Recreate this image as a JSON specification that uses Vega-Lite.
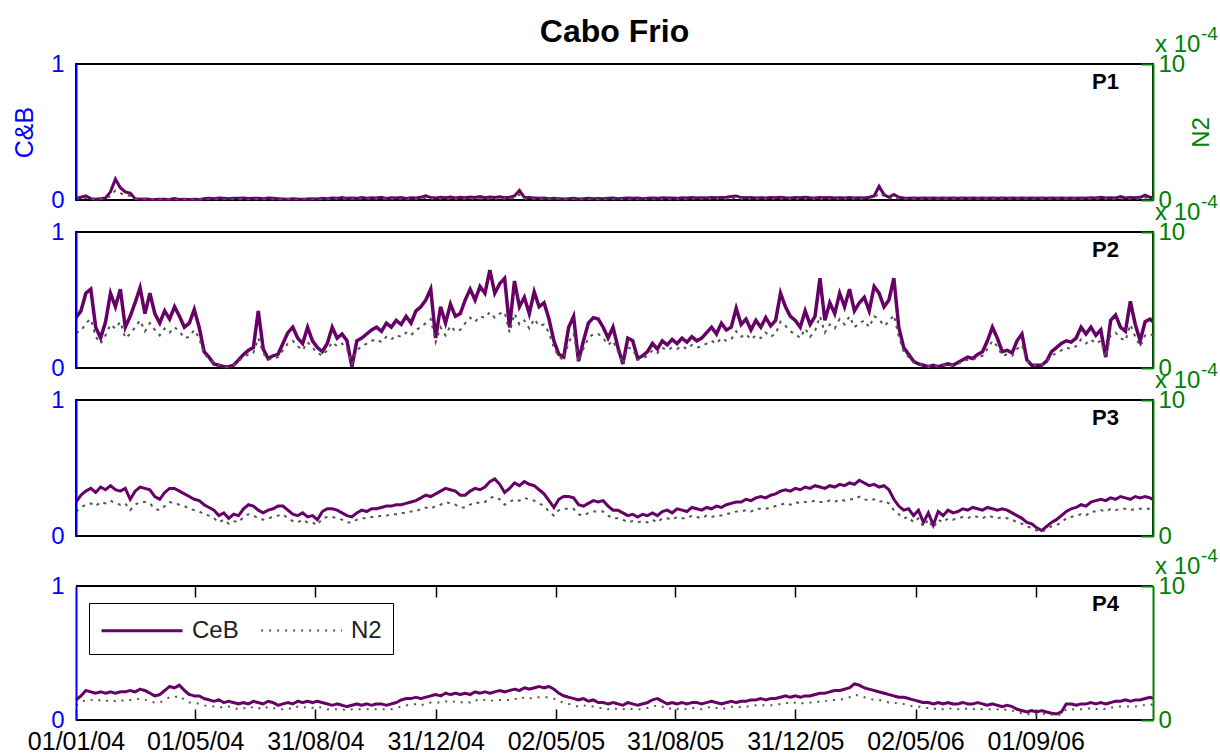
{
  "$schema": "https://vega.github.io/schema/vega-lite/v6.json",
  "background": "white",
  "padding": {"left": 11, "top": 16, "right": 2, "bottom": 0},
  "title": {"text": "Cabo Frio", "font": "Liberation Sans", "fontSize": 32, "fontWeight": "bold", "color": "#000000", "anchor": "middle", "frame": "group", "baseline": "alphabetic", "offset": -50},
  "config": {
    "font": "Liberation Sans",
    "view": {"stroke": "#000000", "strokeWidth": 2},
    "axis": {"labelFont": "Liberation Sans", "titleFont": "Liberation Sans", "grid": false},
    "legend": {"labelFont": "Liberation Sans"}
  },
  "datasets": {
    "cabofrio": [
      {"d":"2004-01-01","c1":0.01,"n1":0.1,"c2":0.37,"n2":2.6,"c3":0.25,"n3":1.8,"c4":0.15,"n4":1.1},
      {"d":"2004-01-06","c1":0.02,"n1":0.1,"c2":0.42,"n2":2.7,"c3":0.3,"n3":2.1,"c4":0.18,"n4":1.3},
      {"d":"2004-01-11","c1":0.03,"n1":0.15,"c2":0.55,"n2":3.3,"c3":0.33,"n3":2.3,"c4":0.22,"n4":1.5},
      {"d":"2004-01-16","c1":0.01,"n1":0.1,"c2":0.58,"n2":3.6,"c3":0.35,"n3":2.4,"c4":0.21,"n4":1.5},
      {"d":"2004-01-21","c1":0.005,"n1":0.1,"c2":0.3,"n2":2.3,"c3":0.32,"n3":2.2,"c4":0.2,"n4":1.4},
      {"d":"2004-01-26","c1":0.01,"n1":0.1,"c2":0.22,"n2":1.8,"c3":0.36,"n3":2.5,"c4":0.21,"n4":1.5},
      {"d":"2004-01-31","c1":0.015,"n1":0.1,"c2":0.34,"n2":2.4,"c3":0.34,"n3":2.4,"c4":0.2,"n4":1.4},
      {"d":"2004-02-05","c1":0.06,"n1":0.3,"c2":0.55,"n2":3.2,"c3":0.37,"n3":2.6,"c4":0.21,"n4":1.5},
      {"d":"2004-02-10","c1":0.155,"n1":0.7,"c2":0.45,"n2":2.9,"c3":0.34,"n3":2.4,"c4":0.2,"n4":1.4},
      {"d":"2004-02-15","c1":0.09,"n1":0.5,"c2":0.58,"n2":3.4,"c3":0.33,"n3":2.3,"c4":0.21,"n4":1.5},
      {"d":"2004-02-20","c1":0.06,"n1":0.4,"c2":0.3,"n2":2.2,"c3":0.35,"n3":2.4,"c4":0.21,"n4":1.4},
      {"d":"2004-02-25","c1":0.05,"n1":0.3,"c2":0.38,"n2":2.5,"c3":0.27,"n3":1.9,"c4":0.22,"n4":1.5},
      {"d":"2004-03-01","c1":0.01,"n1":0.1,"c2":0.48,"n2":3.0,"c3":0.33,"n3":2.3,"c4":0.21,"n4":1.5},
      {"d":"2004-03-06","c1":0.005,"n1":0.1,"c2":0.59,"n2":3.5,"c3":0.36,"n3":2.5,"c4":0.23,"n4":1.6},
      {"d":"2004-03-11","c1":0.008,"n1":0.1,"c2":0.4,"n2":2.7,"c3":0.35,"n3":2.5,"c4":0.22,"n4":1.5},
      {"d":"2004-03-16","c1":0.005,"n1":0.05,"c2":0.55,"n2":3.3,"c3":0.34,"n3":2.4,"c4":0.2,"n4":1.4},
      {"d":"2004-03-21","c1":0.004,"n1":0.05,"c2":0.4,"n2":2.8,"c3":0.29,"n3":2.0,"c4":0.18,"n4":1.3},
      {"d":"2004-03-26","c1":0.006,"n1":0.05,"c2":0.33,"n2":2.4,"c3":0.27,"n3":1.9,"c4":0.19,"n4":1.3},
      {"d":"2004-03-31","c1":0.005,"n1":0.05,"c2":0.42,"n2":2.9,"c3":0.32,"n3":2.2,"c4":0.22,"n4":1.5},
      {"d":"2004-04-05","c1":0.004,"n1":0.05,"c2":0.36,"n2":2.6,"c3":0.35,"n3":2.5,"c4":0.25,"n4":1.7},
      {"d":"2004-04-10","c1":0.01,"n1":0.05,"c2":0.45,"n2":3.0,"c3":0.35,"n3":2.4,"c4":0.24,"n4":1.7},
      {"d":"2004-04-15","c1":0.004,"n1":0.05,"c2":0.38,"n2":2.7,"c3":0.33,"n3":2.3,"c4":0.26,"n4":1.8},
      {"d":"2004-04-20","c1":0.005,"n1":0.05,"c2":0.3,"n2":2.2,"c3":0.31,"n3":2.2,"c4":0.22,"n4":1.5},
      {"d":"2004-04-25","c1":0.003,"n1":0.05,"c2":0.33,"n2":2.3,"c3":0.29,"n3":2.0,"c4":0.19,"n4":1.3},
      {"d":"2004-04-30","c1":0.006,"n1":0.05,"c2":0.43,"n2":2.8,"c3":0.27,"n3":1.9,"c4":0.18,"n4":1.3},
      {"d":"2004-05-05","c1":0.004,"n1":0.05,"c2":0.3,"n2":2.2,"c3":0.26,"n3":1.8,"c4":0.18,"n4":1.2},
      {"d":"2004-05-10","c1":0.01,"n1":0.05,"c2":0.12,"n2":1.0,"c3":0.23,"n3":1.6,"c4":0.16,"n4":1.1},
      {"d":"2004-05-15","c1":0.012,"n1":0.05,"c2":0.08,"n2":0.7,"c3":0.21,"n3":1.5,"c4":0.15,"n4":1.0},
      {"d":"2004-05-20","c1":0.01,"n1":0.05,"c2":0.03,"n2":0.3,"c3":0.19,"n3":1.3,"c4":0.14,"n4":1.0},
      {"d":"2004-05-25","c1":0.014,"n1":0.05,"c2":0.02,"n2":0.2,"c3":0.15,"n3":1.0,"c4":0.15,"n4":1.0},
      {"d":"2004-05-30","c1":0.012,"n1":0.05,"c2":0.01,"n2":0.1,"c3":0.17,"n3":1.2,"c4":0.13,"n4":0.9},
      {"d":"2004-06-04","c1":0.01,"n1":0.05,"c2":0.01,"n2":0.1,"c3":0.13,"n3":0.9,"c4":0.14,"n4":1.0},
      {"d":"2004-06-09","c1":0.013,"n1":0.05,"c2":0.02,"n2":0.2,"c3":0.16,"n3":1.1,"c4":0.13,"n4":0.9},
      {"d":"2004-06-14","c1":0.012,"n1":0.05,"c2":0.06,"n2":0.5,"c3":0.15,"n3":1.0,"c4":0.12,"n4":0.8},
      {"d":"2004-06-19","c1":0.015,"n1":0.05,"c2":0.1,"n2":0.8,"c3":0.2,"n3":1.4,"c4":0.13,"n4":0.9},
      {"d":"2004-06-24","c1":0.011,"n1":0.05,"c2":0.13,"n2":1.0,"c3":0.23,"n3":1.6,"c4":0.12,"n4":0.8},
      {"d":"2004-06-29","c1":0.013,"n1":0.05,"c2":0.15,"n2":1.1,"c3":0.22,"n3":1.5,"c4":0.14,"n4":1.0},
      {"d":"2004-07-04","c1":0.012,"n1":0.05,"c2":0.42,"n2":2.2,"c3":0.19,"n3":1.3,"c4":0.13,"n4":0.9},
      {"d":"2004-07-09","c1":0.01,"n1":0.05,"c2":0.14,"n2":1.1,"c3":0.17,"n3":1.2,"c4":0.12,"n4":0.8},
      {"d":"2004-07-14","c1":0.014,"n1":0.05,"c2":0.07,"n2":0.6,"c3":0.19,"n3":1.3,"c4":0.14,"n4":1.0},
      {"d":"2004-07-19","c1":0.012,"n1":0.05,"c2":0.09,"n2":0.7,"c3":0.2,"n3":1.4,"c4":0.13,"n4":0.9},
      {"d":"2004-07-24","c1":0.01,"n1":0.05,"c2":0.1,"n2":0.8,"c3":0.22,"n3":1.5,"c4":0.11,"n4":0.8},
      {"d":"2004-07-29","c1":0.008,"n1":0.05,"c2":0.18,"n2":1.3,"c3":0.22,"n3":1.6,"c4":0.12,"n4":0.8},
      {"d":"2004-08-03","c1":0.006,"n1":0.05,"c2":0.26,"n2":1.8,"c3":0.19,"n3":1.3,"c4":0.13,"n4":0.9},
      {"d":"2004-08-08","c1":0.01,"n1":0.05,"c2":0.3,"n2":2.0,"c3":0.16,"n3":1.1,"c4":0.12,"n4":0.8},
      {"d":"2004-08-13","c1":0.007,"n1":0.05,"c2":0.22,"n2":1.6,"c3":0.15,"n3":1.0,"c4":0.14,"n4":1.0},
      {"d":"2004-08-18","c1":0.005,"n1":0.05,"c2":0.18,"n2":1.3,"c3":0.17,"n3":1.2,"c4":0.13,"n4":0.9},
      {"d":"2004-08-23","c1":0.008,"n1":0.05,"c2":0.3,"n2":1.9,"c3":0.14,"n3":1.0,"c4":0.14,"n4":1.0},
      {"d":"2004-08-28","c1":0.01,"n1":0.05,"c2":0.2,"n2":1.5,"c3":0.15,"n3":1.0,"c4":0.13,"n4":0.9},
      {"d":"2004-09-02","c1":0.007,"n1":0.05,"c2":0.15,"n2":1.1,"c3":0.12,"n3":0.8,"c4":0.14,"n4":1.0},
      {"d":"2004-09-07","c1":0.012,"n1":0.05,"c2":0.12,"n2":0.9,"c3":0.18,"n3":1.3,"c4":0.13,"n4":0.9},
      {"d":"2004-09-12","c1":0.01,"n1":0.05,"c2":0.18,"n2":1.3,"c3":0.2,"n3":1.4,"c4":0.12,"n4":0.8},
      {"d":"2004-09-17","c1":0.015,"n1":0.1,"c2":0.3,"n2":1.9,"c3":0.2,"n3":1.4,"c4":0.11,"n4":0.8},
      {"d":"2004-09-22","c1":0.012,"n1":0.1,"c2":0.22,"n2":1.6,"c3":0.19,"n3":1.3,"c4":0.12,"n4":0.8},
      {"d":"2004-09-27","c1":0.018,"n1":0.1,"c2":0.25,"n2":1.8,"c3":0.17,"n3":1.2,"c4":0.11,"n4":0.8},
      {"d":"2004-10-02","c1":0.012,"n1":0.1,"c2":0.2,"n2":1.4,"c3":0.15,"n3":1.0,"c4":0.1,"n4":0.7},
      {"d":"2004-10-07","c1":0.015,"n1":0.1,"c2":0.01,"n2":0.3,"c3":0.14,"n3":1.0,"c4":0.11,"n4":0.8},
      {"d":"2004-10-12","c1":0.012,"n1":0.1,"c2":0.2,"n2":1.3,"c3":0.17,"n3":1.2,"c4":0.12,"n4":0.8},
      {"d":"2004-10-17","c1":0.018,"n1":0.1,"c2":0.22,"n2":1.6,"c3":0.19,"n3":1.3,"c4":0.11,"n4":0.8},
      {"d":"2004-10-22","c1":0.013,"n1":0.1,"c2":0.25,"n2":1.8,"c3":0.18,"n3":1.3,"c4":0.12,"n4":0.8},
      {"d":"2004-10-27","c1":0.016,"n1":0.1,"c2":0.28,"n2":2.0,"c3":0.2,"n3":1.4,"c4":0.11,"n4":0.8},
      {"d":"2004-11-01","c1":0.014,"n1":0.1,"c2":0.3,"n2":2.1,"c3":0.2,"n3":1.4,"c4":0.12,"n4":0.8},
      {"d":"2004-11-06","c1":0.02,"n1":0.1,"c2":0.27,"n2":1.9,"c3":0.21,"n3":1.5,"c4":0.12,"n4":0.8},
      {"d":"2004-11-11","c1":0.012,"n1":0.1,"c2":0.33,"n2":2.3,"c3":0.22,"n3":1.5,"c4":0.11,"n4":0.8},
      {"d":"2004-11-16","c1":0.016,"n1":0.1,"c2":0.3,"n2":2.1,"c3":0.22,"n3":1.6,"c4":0.12,"n4":0.8},
      {"d":"2004-11-21","c1":0.014,"n1":0.1,"c2":0.35,"n2":2.4,"c3":0.23,"n3":1.6,"c4":0.13,"n4":0.9},
      {"d":"2004-11-26","c1":0.018,"n1":0.1,"c2":0.32,"n2":2.3,"c3":0.23,"n3":1.7,"c4":0.15,"n4":1.0},
      {"d":"2004-12-01","c1":0.012,"n1":0.1,"c2":0.38,"n2":2.6,"c3":0.24,"n3":1.7,"c4":0.16,"n4":1.1},
      {"d":"2004-12-06","c1":0.017,"n1":0.1,"c2":0.33,"n2":2.4,"c3":0.25,"n3":1.8,"c4":0.16,"n4":1.1},
      {"d":"2004-12-11","c1":0.015,"n1":0.1,"c2":0.42,"n2":2.8,"c3":0.26,"n3":1.8,"c4":0.17,"n4":1.2},
      {"d":"2004-12-16","c1":0.02,"n1":0.1,"c2":0.45,"n2":3.0,"c3":0.28,"n3":2.0,"c4":0.16,"n4":1.1},
      {"d":"2004-12-21","c1":0.03,"n1":0.15,"c2":0.5,"n2":3.3,"c3":0.3,"n3":2.1,"c4":0.17,"n4":1.2},
      {"d":"2004-12-26","c1":0.018,"n1":0.1,"c2":0.58,"n2":3.6,"c3":0.29,"n3":2.0,"c4":0.18,"n4":1.3},
      {"d":"2004-12-31","c1":0.015,"n1":0.1,"c2":0.22,"n2":1.9,"c3":0.31,"n3":2.2,"c4":0.19,"n4":1.3},
      {"d":"2005-01-05","c1":0.02,"n1":0.1,"c2":0.45,"n2":3.0,"c3":0.33,"n3":2.3,"c4":0.18,"n4":1.3},
      {"d":"2005-01-10","c1":0.016,"n1":0.1,"c2":0.33,"n2":2.4,"c3":0.35,"n3":2.5,"c4":0.2,"n4":1.4},
      {"d":"2005-01-15","c1":0.022,"n1":0.1,"c2":0.47,"n2":3.1,"c3":0.34,"n3":2.4,"c4":0.19,"n4":1.3},
      {"d":"2005-01-20","c1":0.015,"n1":0.1,"c2":0.38,"n2":2.7,"c3":0.33,"n3":2.3,"c4":0.2,"n4":1.4},
      {"d":"2005-01-25","c1":0.02,"n1":0.1,"c2":0.4,"n2":2.8,"c3":0.3,"n3":2.1,"c4":0.19,"n4":1.3},
      {"d":"2005-01-30","c1":0.016,"n1":0.1,"c2":0.5,"n2":3.3,"c3":0.3,"n3":2.1,"c4":0.2,"n4":1.4},
      {"d":"2005-02-04","c1":0.022,"n1":0.1,"c2":0.58,"n2":3.7,"c3":0.33,"n3":2.3,"c4":0.19,"n4":1.3},
      {"d":"2005-02-09","c1":0.018,"n1":0.1,"c2":0.5,"n2":3.4,"c3":0.35,"n3":2.5,"c4":0.21,"n4":1.5},
      {"d":"2005-02-14","c1":0.025,"n1":0.1,"c2":0.6,"n2":3.8,"c3":0.34,"n3":2.4,"c4":0.2,"n4":1.4},
      {"d":"2005-02-19","c1":0.017,"n1":0.1,"c2":0.55,"n2":3.7,"c3":0.36,"n3":2.5,"c4":0.21,"n4":1.5},
      {"d":"2005-02-24","c1":0.022,"n1":0.1,"c2":0.72,"n2":4.1,"c3":0.4,"n3":2.8,"c4":0.2,"n4":1.4},
      {"d":"2005-03-01","c1":0.018,"n1":0.1,"c2":0.55,"n2":3.7,"c3":0.42,"n3":2.9,"c4":0.21,"n4":1.5},
      {"d":"2005-03-06","c1":0.024,"n1":0.1,"c2":0.62,"n2":4.0,"c3":0.38,"n3":2.7,"c4":0.22,"n4":1.5},
      {"d":"2005-03-11","c1":0.016,"n1":0.1,"c2":0.66,"n2":4.1,"c3":0.32,"n3":2.3,"c4":0.21,"n4":1.5},
      {"d":"2005-03-16","c1":0.02,"n1":0.1,"c2":0.3,"n2":2.6,"c3":0.35,"n3":2.5,"c4":0.22,"n4":1.5},
      {"d":"2005-03-21","c1":0.03,"n1":0.15,"c2":0.64,"n2":4.0,"c3":0.39,"n3":2.7,"c4":0.23,"n4":1.6},
      {"d":"2005-03-26","c1":0.07,"n1":0.4,"c2":0.45,"n2":3.2,"c3":0.37,"n3":2.6,"c4":0.22,"n4":1.5},
      {"d":"2005-03-31","c1":0.02,"n1":0.1,"c2":0.52,"n2":3.5,"c3":0.4,"n3":2.8,"c4":0.24,"n4":1.7},
      {"d":"2005-04-05","c1":0.018,"n1":0.1,"c2":0.4,"n2":2.9,"c3":0.38,"n3":2.7,"c4":0.23,"n4":1.6},
      {"d":"2005-04-10","c1":0.015,"n1":0.1,"c2":0.56,"n2":3.6,"c3":0.37,"n3":2.6,"c4":0.24,"n4":1.7},
      {"d":"2005-04-15","c1":0.012,"n1":0.1,"c2":0.45,"n2":3.1,"c3":0.34,"n3":2.4,"c4":0.25,"n4":1.7},
      {"d":"2005-04-20","c1":0.014,"n1":0.1,"c2":0.48,"n2":3.2,"c3":0.31,"n3":2.2,"c4":0.24,"n4":1.7},
      {"d":"2005-04-25","c1":0.01,"n1":0.1,"c2":0.36,"n2":2.6,"c3":0.26,"n3":1.8,"c4":0.25,"n4":1.7},
      {"d":"2005-04-30","c1":0.012,"n1":0.1,"c2":0.2,"n2":1.5,"c3":0.21,"n3":1.5,"c4":0.23,"n4":1.6},
      {"d":"2005-05-05","c1":0.01,"n1":0.1,"c2":0.1,"n2":0.8,"c3":0.27,"n3":1.9,"c4":0.2,"n4":1.4},
      {"d":"2005-05-10","c1":0.008,"n1":0.05,"c2":0.08,"n2":0.6,"c3":0.29,"n3":2.0,"c4":0.18,"n4":1.3},
      {"d":"2005-05-15","c1":0.01,"n1":0.05,"c2":0.3,"n2":1.9,"c3":0.29,"n3":2.0,"c4":0.17,"n4":1.2},
      {"d":"2005-05-20","c1":0.012,"n1":0.05,"c2":0.38,"n2":2.5,"c3":0.28,"n3":2.0,"c4":0.16,"n4":1.1},
      {"d":"2005-05-25","c1":0.008,"n1":0.05,"c2":0.05,"n2":0.5,"c3":0.23,"n3":1.6,"c4":0.15,"n4":1.0},
      {"d":"2005-05-30","c1":0.01,"n1":0.05,"c2":0.2,"n2":1.4,"c3":0.22,"n3":1.5,"c4":0.16,"n4":1.1},
      {"d":"2005-06-04","c1":0.012,"n1":0.05,"c2":0.33,"n2":2.2,"c3":0.24,"n3":1.7,"c4":0.14,"n4":1.0},
      {"d":"2005-06-09","c1":0.009,"n1":0.05,"c2":0.37,"n2":2.5,"c3":0.26,"n3":1.8,"c4":0.15,"n4":1.0},
      {"d":"2005-06-14","c1":0.011,"n1":0.05,"c2":0.36,"n2":2.5,"c3":0.25,"n3":1.8,"c4":0.13,"n4":0.9},
      {"d":"2005-06-19","c1":0.01,"n1":0.05,"c2":0.3,"n2":2.2,"c3":0.26,"n3":1.8,"c4":0.13,"n4":0.9},
      {"d":"2005-06-24","c1":0.012,"n1":0.05,"c2":0.22,"n2":1.7,"c3":0.22,"n3":1.5,"c4":0.12,"n4":0.8},
      {"d":"2005-06-29","c1":0.014,"n1":0.05,"c2":0.3,"n2":2.0,"c3":0.19,"n3":1.3,"c4":0.13,"n4":0.9},
      {"d":"2005-07-04","c1":0.01,"n1":0.05,"c2":0.15,"n2":1.2,"c3":0.19,"n3":1.3,"c4":0.12,"n4":0.8},
      {"d":"2005-07-09","c1":0.012,"n1":0.05,"c2":0.03,"n2":0.3,"c3":0.17,"n3":1.2,"c4":0.11,"n4":0.8},
      {"d":"2005-07-14","c1":0.015,"n1":0.05,"c2":0.22,"n2":1.5,"c3":0.15,"n3":1.0,"c4":0.13,"n4":0.9},
      {"d":"2005-07-19","c1":0.012,"n1":0.05,"c2":0.2,"n2":1.4,"c3":0.16,"n3":1.1,"c4":0.12,"n4":0.8},
      {"d":"2005-07-24","c1":0.014,"n1":0.05,"c2":0.07,"n2":0.6,"c3":0.14,"n3":1.0,"c4":0.11,"n4":0.8},
      {"d":"2005-07-29","c1":0.01,"n1":0.05,"c2":0.09,"n2":0.7,"c3":0.16,"n3":1.1,"c4":0.12,"n4":0.8},
      {"d":"2005-08-03","c1":0.013,"n1":0.05,"c2":0.12,"n2":0.9,"c3":0.15,"n3":1.0,"c4":0.13,"n4":0.9},
      {"d":"2005-08-08","c1":0.015,"n1":0.05,"c2":0.18,"n2":1.3,"c3":0.17,"n3":1.2,"c4":0.15,"n4":1.0},
      {"d":"2005-08-13","c1":0.012,"n1":0.05,"c2":0.14,"n2":1.1,"c3":0.15,"n3":1.0,"c4":0.16,"n4":1.1},
      {"d":"2005-08-18","c1":0.016,"n1":0.05,"c2":0.2,"n2":1.5,"c3":0.18,"n3":1.3,"c4":0.14,"n4":1.0},
      {"d":"2005-08-23","c1":0.014,"n1":0.05,"c2":0.17,"n2":1.3,"c3":0.19,"n3":1.3,"c4":0.12,"n4":0.8},
      {"d":"2005-08-28","c1":0.015,"n1":0.05,"c2":0.21,"n2":1.5,"c3":0.17,"n3":1.2,"c4":0.13,"n4":0.9},
      {"d":"2005-09-02","c1":0.012,"n1":0.05,"c2":0.18,"n2":1.4,"c3":0.2,"n3":1.4,"c4":0.12,"n4":0.8},
      {"d":"2005-09-07","c1":0.016,"n1":0.05,"c2":0.22,"n2":1.6,"c3":0.19,"n3":1.3,"c4":0.13,"n4":0.9},
      {"d":"2005-09-12","c1":0.014,"n1":0.05,"c2":0.19,"n2":1.4,"c3":0.18,"n3":1.3,"c4":0.12,"n4":0.8},
      {"d":"2005-09-17","c1":0.018,"n1":0.1,"c2":0.23,"n2":1.7,"c3":0.21,"n3":1.5,"c4":0.13,"n4":0.9},
      {"d":"2005-09-22","c1":0.015,"n1":0.1,"c2":0.2,"n2":1.5,"c3":0.2,"n3":1.4,"c4":0.13,"n4":0.9},
      {"d":"2005-09-27","c1":0.017,"n1":0.1,"c2":0.22,"n2":1.6,"c3":0.19,"n3":1.3,"c4":0.12,"n4":0.8},
      {"d":"2005-10-02","c1":0.015,"n1":0.1,"c2":0.26,"n2":1.8,"c3":0.21,"n3":1.5,"c4":0.13,"n4":0.9},
      {"d":"2005-10-07","c1":0.018,"n1":0.1,"c2":0.3,"n2":2.0,"c3":0.2,"n3":1.4,"c4":0.14,"n4":1.0},
      {"d":"2005-10-12","c1":0.016,"n1":0.1,"c2":0.25,"n2":1.8,"c3":0.22,"n3":1.5,"c4":0.13,"n4":0.9},
      {"d":"2005-10-17","c1":0.019,"n1":0.1,"c2":0.33,"n2":2.2,"c3":0.21,"n3":1.5,"c4":0.12,"n4":0.8},
      {"d":"2005-10-22","c1":0.02,"n1":0.1,"c2":0.28,"n2":2.0,"c3":0.23,"n3":1.6,"c4":0.13,"n4":0.9},
      {"d":"2005-10-27","c1":0.025,"n1":0.1,"c2":0.3,"n2":2.1,"c3":0.24,"n3":1.7,"c4":0.14,"n4":1.0},
      {"d":"2005-11-01","c1":0.03,"n1":0.15,"c2":0.44,"n2":2.7,"c3":0.25,"n3":1.8,"c4":0.13,"n4":0.9},
      {"d":"2005-11-06","c1":0.018,"n1":0.1,"c2":0.32,"n2":2.3,"c3":0.25,"n3":1.8,"c4":0.14,"n4":1.0},
      {"d":"2005-11-11","c1":0.016,"n1":0.1,"c2":0.36,"n2":2.5,"c3":0.27,"n3":1.9,"c4":0.14,"n4":1.0},
      {"d":"2005-11-16","c1":0.018,"n1":0.1,"c2":0.28,"n2":2.1,"c3":0.26,"n3":1.8,"c4":0.15,"n4":1.0},
      {"d":"2005-11-21","c1":0.015,"n1":0.1,"c2":0.35,"n2":2.4,"c3":0.28,"n3":2.0,"c4":0.15,"n4":1.1},
      {"d":"2005-11-26","c1":0.017,"n1":0.1,"c2":0.3,"n2":2.2,"c3":0.29,"n3":2.0,"c4":0.16,"n4":1.1},
      {"d":"2005-12-01","c1":0.015,"n1":0.1,"c2":0.37,"n2":2.6,"c3":0.28,"n3":2.0,"c4":0.15,"n4":1.1},
      {"d":"2005-12-06","c1":0.018,"n1":0.1,"c2":0.31,"n2":2.3,"c3":0.3,"n3":2.1,"c4":0.16,"n4":1.1},
      {"d":"2005-12-11","c1":0.016,"n1":0.1,"c2":0.35,"n2":2.5,"c3":0.31,"n3":2.2,"c4":0.16,"n4":1.1},
      {"d":"2005-12-16","c1":0.02,"n1":0.1,"c2":0.55,"n2":3.4,"c3":0.33,"n3":2.3,"c4":0.17,"n4":1.2},
      {"d":"2005-12-21","c1":0.017,"n1":0.1,"c2":0.45,"n2":3.1,"c3":0.34,"n3":2.4,"c4":0.18,"n4":1.3},
      {"d":"2005-12-26","c1":0.015,"n1":0.1,"c2":0.38,"n2":2.7,"c3":0.33,"n3":2.3,"c4":0.17,"n4":1.2},
      {"d":"2005-12-31","c1":0.018,"n1":0.1,"c2":0.35,"n2":2.5,"c3":0.35,"n3":2.5,"c4":0.18,"n4":1.3},
      {"d":"2006-01-05","c1":0.016,"n1":0.1,"c2":0.3,"n2":2.2,"c3":0.34,"n3":2.4,"c4":0.17,"n4":1.2},
      {"d":"2006-01-10","c1":0.02,"n1":0.1,"c2":0.42,"n2":2.9,"c3":0.36,"n3":2.5,"c4":0.18,"n4":1.3},
      {"d":"2006-01-15","c1":0.017,"n1":0.1,"c2":0.32,"n2":2.3,"c3":0.35,"n3":2.5,"c4":0.18,"n4":1.3},
      {"d":"2006-01-20","c1":0.015,"n1":0.1,"c2":0.38,"n2":2.7,"c3":0.37,"n3":2.6,"c4":0.19,"n4":1.3},
      {"d":"2006-01-25","c1":0.018,"n1":0.1,"c2":0.66,"n2":3.8,"c3":0.36,"n3":2.5,"c4":0.2,"n4":1.4},
      {"d":"2006-01-30","c1":0.016,"n1":0.1,"c2":0.35,"n2":2.6,"c3":0.35,"n3":2.5,"c4":0.2,"n4":1.4},
      {"d":"2006-02-04","c1":0.018,"n1":0.1,"c2":0.48,"n2":3.2,"c3":0.37,"n3":2.6,"c4":0.21,"n4":1.5},
      {"d":"2006-02-09","c1":0.015,"n1":0.1,"c2":0.4,"n2":2.9,"c3":0.36,"n3":2.5,"c4":0.22,"n4":1.5},
      {"d":"2006-02-14","c1":0.017,"n1":0.1,"c2":0.55,"n2":3.6,"c3":0.38,"n3":2.7,"c4":0.22,"n4":1.5},
      {"d":"2006-02-19","c1":0.015,"n1":0.1,"c2":0.45,"n2":3.2,"c3":0.37,"n3":2.6,"c4":0.23,"n4":1.6},
      {"d":"2006-02-24","c1":0.018,"n1":0.1,"c2":0.58,"n2":3.8,"c3":0.39,"n3":2.7,"c4":0.24,"n4":1.7},
      {"d":"2006-03-01","c1":0.015,"n1":0.1,"c2":0.42,"n2":3.0,"c3":0.38,"n3":2.7,"c4":0.27,"n4":1.9},
      {"d":"2006-03-06","c1":0.017,"n1":0.1,"c2":0.48,"n2":3.3,"c3":0.41,"n3":2.9,"c4":0.26,"n4":1.8},
      {"d":"2006-03-11","c1":0.015,"n1":0.1,"c2":0.52,"n2":3.5,"c3":0.39,"n3":2.7,"c4":0.24,"n4":1.7},
      {"d":"2006-03-16","c1":0.02,"n1":0.1,"c2":0.42,"n2":3.0,"c3":0.37,"n3":2.6,"c4":0.23,"n4":1.6},
      {"d":"2006-03-21","c1":0.03,"n1":0.15,"c2":0.6,"n2":3.8,"c3":0.38,"n3":2.7,"c4":0.22,"n4":1.5},
      {"d":"2006-03-26","c1":0.1,"n1":0.5,"c2":0.55,"n2":3.6,"c3":0.36,"n3":2.5,"c4":0.21,"n4":1.5},
      {"d":"2006-03-31","c1":0.04,"n1":0.3,"c2":0.45,"n2":3.1,"c3":0.37,"n3":2.6,"c4":0.2,"n4":1.4},
      {"d":"2006-04-05","c1":0.02,"n1":0.1,"c2":0.5,"n2":3.4,"c3":0.34,"n3":2.4,"c4":0.19,"n4":1.3},
      {"d":"2006-04-10","c1":0.04,"n1":0.2,"c2":0.66,"n2":3.9,"c3":0.27,"n3":1.9,"c4":0.18,"n4":1.3},
      {"d":"2006-04-15","c1":0.02,"n1":0.1,"c2":0.3,"n2":2.3,"c3":0.22,"n3":1.6,"c4":0.17,"n4":1.2},
      {"d":"2006-04-20","c1":0.015,"n1":0.1,"c2":0.15,"n2":1.2,"c3":0.19,"n3":1.3,"c4":0.17,"n4":1.2},
      {"d":"2006-04-25","c1":0.012,"n1":0.1,"c2":0.1,"n2":0.8,"c3":0.2,"n3":1.4,"c4":0.16,"n4":1.1},
      {"d":"2006-04-30","c1":0.015,"n1":0.1,"c2":0.05,"n2":0.4,"c3":0.15,"n3":1.0,"c4":0.15,"n4":1.0},
      {"d":"2006-05-05","c1":0.012,"n1":0.1,"c2":0.03,"n2":0.3,"c3":0.19,"n3":1.3,"c4":0.14,"n4":1.0},
      {"d":"2006-05-10","c1":0.014,"n1":0.1,"c2":0.02,"n2":0.2,"c3":0.1,"n3":0.7,"c4":0.13,"n4":0.9},
      {"d":"2006-05-15","c1":0.012,"n1":0.1,"c2":0.01,"n2":0.1,"c3":0.17,"n3":1.2,"c4":0.13,"n4":0.9},
      {"d":"2006-05-20","c1":0.015,"n1":0.1,"c2":0.02,"n2":0.2,"c3":0.08,"n3":0.6,"c4":0.12,"n4":0.8},
      {"d":"2006-05-25","c1":0.013,"n1":0.1,"c2":0.01,"n2":0.1,"c3":0.18,"n3":1.2,"c4":0.13,"n4":0.9},
      {"d":"2006-05-30","c1":0.015,"n1":0.1,"c2":0.02,"n2":0.2,"c3":0.15,"n3":1.0,"c4":0.12,"n4":0.8},
      {"d":"2006-06-04","c1":0.012,"n1":0.1,"c2":0.03,"n2":0.3,"c3":0.19,"n3":1.3,"c4":0.13,"n4":0.9},
      {"d":"2006-06-09","c1":0.014,"n1":0.1,"c2":0.02,"n2":0.2,"c3":0.17,"n3":1.2,"c4":0.12,"n4":0.8},
      {"d":"2006-06-14","c1":0.012,"n1":0.1,"c2":0.04,"n2":0.3,"c3":0.18,"n3":1.3,"c4":0.12,"n4":0.8},
      {"d":"2006-06-19","c1":0.015,"n1":0.1,"c2":0.06,"n2":0.5,"c3":0.2,"n3":1.4,"c4":0.13,"n4":0.9},
      {"d":"2006-06-24","c1":0.013,"n1":0.1,"c2":0.08,"n2":0.6,"c3":0.19,"n3":1.3,"c4":0.12,"n4":0.8},
      {"d":"2006-06-29","c1":0.015,"n1":0.1,"c2":0.07,"n2":0.6,"c3":0.21,"n3":1.5,"c4":0.12,"n4":0.8},
      {"d":"2006-07-04","c1":0.012,"n1":0.1,"c2":0.1,"n2":0.8,"c3":0.2,"n3":1.4,"c4":0.13,"n4":0.9},
      {"d":"2006-07-09","c1":0.014,"n1":0.1,"c2":0.12,"n2":0.9,"c3":0.19,"n3":1.3,"c4":0.12,"n4":0.8},
      {"d":"2006-07-14","c1":0.012,"n1":0.1,"c2":0.2,"n2":1.4,"c3":0.21,"n3":1.5,"c4":0.11,"n4":0.8},
      {"d":"2006-07-19","c1":0.015,"n1":0.1,"c2":0.3,"n2":2.0,"c3":0.2,"n3":1.4,"c4":0.12,"n4":0.8},
      {"d":"2006-07-24","c1":0.013,"n1":0.1,"c2":0.22,"n2":1.6,"c3":0.19,"n3":1.3,"c4":0.11,"n4":0.8},
      {"d":"2006-07-29","c1":0.015,"n1":0.1,"c2":0.12,"n2":0.9,"c3":0.2,"n3":1.4,"c4":0.1,"n4":0.7},
      {"d":"2006-08-03","c1":0.012,"n1":0.1,"c2":0.13,"n2":1.0,"c3":0.19,"n3":1.3,"c4":0.11,"n4":0.8},
      {"d":"2006-08-08","c1":0.014,"n1":0.1,"c2":0.11,"n2":0.9,"c3":0.17,"n3":1.2,"c4":0.1,"n4":0.7},
      {"d":"2006-08-13","c1":0.012,"n1":0.1,"c2":0.2,"n2":1.4,"c3":0.15,"n3":1.0,"c4":0.08,"n4":0.6},
      {"d":"2006-08-18","c1":0.015,"n1":0.1,"c2":0.25,"n2":1.7,"c3":0.13,"n3":0.9,"c4":0.07,"n4":0.5},
      {"d":"2006-08-23","c1":0.013,"n1":0.1,"c2":0.06,"n2":0.5,"c3":0.1,"n3":0.7,"c4":0.06,"n4":0.4},
      {"d":"2006-08-28","c1":0.015,"n1":0.1,"c2":0.02,"n2":0.2,"c3":0.09,"n3":0.6,"c4":0.07,"n4":0.5},
      {"d":"2006-09-02","c1":0.012,"n1":0.1,"c2":0.02,"n2":0.2,"c3":0.06,"n3":0.4,"c4":0.06,"n4":0.4},
      {"d":"2006-09-07","c1":0.014,"n1":0.1,"c2":0.02,"n2":0.2,"c3":0.04,"n3":0.3,"c4":0.07,"n4":0.5},
      {"d":"2006-09-12","c1":0.012,"n1":0.1,"c2":0.05,"n2":0.4,"c3":0.07,"n3":0.5,"c4":0.06,"n4":0.4},
      {"d":"2006-09-17","c1":0.015,"n1":0.1,"c2":0.12,"n2":0.9,"c3":0.1,"n3":0.7,"c4":0.05,"n4":0.4},
      {"d":"2006-09-22","c1":0.013,"n1":0.1,"c2":0.15,"n2":1.1,"c3":0.12,"n3":0.8,"c4":0.045,"n4":0.3},
      {"d":"2006-09-27","c1":0.015,"n1":0.1,"c2":0.18,"n2":1.3,"c3":0.15,"n3":1.0,"c4":0.06,"n4":0.4},
      {"d":"2006-10-02","c1":0.012,"n1":0.1,"c2":0.2,"n2":1.5,"c3":0.18,"n3":1.3,"c4":0.12,"n4":0.8},
      {"d":"2006-10-07","c1":0.014,"n1":0.1,"c2":0.19,"n2":1.4,"c3":0.2,"n3":1.4,"c4":0.12,"n4":0.8},
      {"d":"2006-10-12","c1":0.012,"n1":0.1,"c2":0.22,"n2":1.6,"c3":0.21,"n3":1.5,"c4":0.11,"n4":0.8},
      {"d":"2006-10-17","c1":0.015,"n1":0.1,"c2":0.3,"n2":2.1,"c3":0.23,"n3":1.6,"c4":0.12,"n4":0.8},
      {"d":"2006-10-22","c1":0.013,"n1":0.1,"c2":0.25,"n2":1.8,"c3":0.22,"n3":1.5,"c4":0.12,"n4":0.8},
      {"d":"2006-10-27","c1":0.016,"n1":0.1,"c2":0.3,"n2":2.1,"c3":0.25,"n3":1.8,"c4":0.13,"n4":0.9},
      {"d":"2006-11-01","c1":0.014,"n1":0.1,"c2":0.24,"n2":1.8,"c3":0.26,"n3":1.8,"c4":0.12,"n4":0.8},
      {"d":"2006-11-06","c1":0.02,"n1":0.1,"c2":0.28,"n2":2.0,"c3":0.27,"n3":1.9,"c4":0.13,"n4":0.9},
      {"d":"2006-11-11","c1":0.014,"n1":0.1,"c2":0.08,"n2":0.8,"c3":0.26,"n3":1.8,"c4":0.12,"n4":0.8},
      {"d":"2006-11-16","c1":0.016,"n1":0.1,"c2":0.35,"n2":2.4,"c3":0.28,"n3":2.0,"c4":0.13,"n4":0.9},
      {"d":"2006-11-21","c1":0.014,"n1":0.1,"c2":0.39,"n2":2.6,"c3":0.27,"n3":1.9,"c4":0.14,"n4":1.0},
      {"d":"2006-11-26","c1":0.025,"n1":0.1,"c2":0.3,"n2":2.2,"c3":0.29,"n3":2.0,"c4":0.14,"n4":1.0},
      {"d":"2006-12-01","c1":0.015,"n1":0.1,"c2":0.27,"n2":2.0,"c3":0.28,"n3":2.0,"c4":0.15,"n4":1.0},
      {"d":"2006-12-06","c1":0.018,"n1":0.1,"c2":0.49,"n2":3.2,"c3":0.27,"n3":1.9,"c4":0.14,"n4":1.0},
      {"d":"2006-12-11","c1":0.016,"n1":0.1,"c2":0.32,"n2":2.3,"c3":0.29,"n3":2.0,"c4":0.15,"n4":1.0},
      {"d":"2006-12-16","c1":0.02,"n1":0.1,"c2":0.2,"n2":1.6,"c3":0.28,"n3":2.0,"c4":0.15,"n4":1.1},
      {"d":"2006-12-21","c1":0.035,"n1":0.2,"c2":0.34,"n2":2.4,"c3":0.29,"n3":2.0,"c4":0.16,"n4":1.1},
      {"d":"2006-12-26","c1":0.02,"n1":0.1,"c2":0.36,"n2":2.5,"c3":0.28,"n3":2.0,"c4":0.17,"n4":1.2},
      {"d":"2006-12-29","c1":0.015,"n1":0.1,"c2":0.34,"n2":2.4,"c3":0.27,"n3":1.9,"c4":0.16,"n4":1.1}
    ]
  },
  "data": {"name": "cabofrio"},
  "spacing": 32,
  "bounds": "flush",
  "vconcat": [
    {
      "width": 1077,
      "height": 136,
      "layer": [
        {
          "mark": {"type": "line", "color": "#660066", "strokeWidth": 3},
          "encoding": {
            "x": {"field": "d", "type": "temporal", "scale": {"type": "utc", "nice": false, "domain": [{"year": 2004, "month": 1, "date": 1, "utc": true}, {"year": 2006, "month": 12, "date": 29, "utc": true}]}, "axis": null},
            "y": {"field": "c1", "type": "quantitative", "scale": {"domain": [0, 1], "nice": false}, "axis": {"orient": "left", "values": [0, 1], "format": "d", "labelFontSize": 24, "labelColor": "#0000ff", "labelPadding": 12, "domainColor": "#0000ff", "domainWidth": 2, "ticks": false, "zindex": 1, "title": "C&B", "titleColor": "#0000ff", "titleFontSize": 25, "titleFontWeight": "normal", "titlePadding": 13}}
          }
        },
        {
          "mark": {"type": "line", "color": "#555555", "strokeWidth": 2, "strokeDash": [3, 5]},
          "encoding": {
            "x": {"field": "d", "type": "temporal", "scale": {"type": "utc", "nice": false, "domain": [{"year": 2004, "month": 1, "date": 1, "utc": true}, {"year": 2006, "month": 12, "date": 29, "utc": true}]}, "axis": null},
            "y": {"field": "n1", "type": "quantitative", "scale": {"domain": [0, 10], "nice": false}, "axis": {"orient": "right", "values": [0, 10], "format": "d", "labelFontSize": 24, "labelColor": "#008000", "labelPadding": 17, "domainColor": "#008000", "domainWidth": 2, "tickColor": "#008000", "tickWidth": 2, "tickSize": -12, "zindex": 1, "title": "N2", "titleColor": "#008000", "titleFontSize": 24, "titleFontWeight": "normal", "titleAngle": 270, "titleBaseline": "top", "titlePadding": 5}}
          }
        },
        {
          "data": {"values": [{"label": "P1"}]},
          "mark": {"type": "text", "align": "right", "baseline": "middle", "dx": -34, "dy": 18, "fontSize": 22, "fontWeight": "bold", "color": "#000000"},
          "encoding": {
            "x": {"datum": {"year": 2006, "month": 12, "date": 29, "utc": true}, "type": "temporal", "axis": null},
            "y": {"datum": 1, "type": "quantitative", "scale": {"domain": [0, 1]}, "axis": null},
            "text": {"field": "label"}
          }
        },
        {
          "data": {"values": [{"label": "x 10"}]},
          "mark": {"type": "text", "align": "left", "baseline": "alphabetic", "dx": 2, "dy": -12, "fontSize": 24, "color": "#008000"},
          "encoding": {
            "x": {"datum": {"year": 2006, "month": 12, "date": 29, "utc": true}, "type": "temporal", "axis": null},
            "y": {"datum": 1, "type": "quantitative", "scale": {"domain": [0, 1]}, "axis": null},
            "text": {"field": "label"}
          }
        },
        {
          "data": {"values": [{"label": "-4"}]},
          "mark": {"type": "text", "align": "left", "baseline": "alphabetic", "dx": 48, "dy": -24, "fontSize": 19, "color": "#008000"},
          "encoding": {
            "x": {"datum": {"year": 2006, "month": 12, "date": 29, "utc": true}, "type": "temporal", "axis": null},
            "y": {"datum": 1, "type": "quantitative", "scale": {"domain": [0, 1]}, "axis": null},
            "text": {"field": "label"}
          }
        }
      ],
      "resolve": {"scale": {"y": "independent"}}
    },
    {
      "width": 1077,
      "height": 136,
      "layer": [
        {
          "mark": {"type": "line", "color": "#660066", "strokeWidth": 3.5},
          "encoding": {
            "x": {"field": "d", "type": "temporal", "scale": {"type": "utc", "nice": false, "domain": [{"year": 2004, "month": 1, "date": 1, "utc": true}, {"year": 2006, "month": 12, "date": 29, "utc": true}]}, "axis": null},
            "y": {"field": "c2", "type": "quantitative", "scale": {"domain": [0, 1], "nice": false}, "axis": {"orient": "left", "values": [0, 1], "format": "d", "labelFontSize": 24, "labelColor": "#0000ff", "labelPadding": 12, "domainColor": "#0000ff", "domainWidth": 2, "ticks": false, "zindex": 1, "title": null}}
          }
        },
        {
          "mark": {"type": "line", "color": "#555555", "strokeWidth": 2, "strokeDash": [3, 5]},
          "encoding": {
            "x": {"field": "d", "type": "temporal", "scale": {"type": "utc", "nice": false, "domain": [{"year": 2004, "month": 1, "date": 1, "utc": true}, {"year": 2006, "month": 12, "date": 29, "utc": true}]}, "axis": null},
            "y": {"field": "n2", "type": "quantitative", "scale": {"domain": [0, 10], "nice": false}, "axis": {"orient": "right", "values": [0, 10], "format": "d", "labelFontSize": 24, "labelColor": "#008000", "labelPadding": 17, "domainColor": "#008000", "domainWidth": 2, "tickColor": "#008000", "tickWidth": 2, "tickSize": -12, "zindex": 1, "title": null}}
          }
        },
        {
          "data": {"values": [{"label": "P2"}]},
          "mark": {"type": "text", "align": "right", "baseline": "middle", "dx": -34, "dy": 18, "fontSize": 22, "fontWeight": "bold", "color": "#000000"},
          "encoding": {
            "x": {"datum": {"year": 2006, "month": 12, "date": 29, "utc": true}, "type": "temporal", "axis": null},
            "y": {"datum": 1, "type": "quantitative", "scale": {"domain": [0, 1]}, "axis": null},
            "text": {"field": "label"}
          }
        },
        {
          "data": {"values": [{"label": "x 10"}]},
          "mark": {"type": "text", "align": "left", "baseline": "alphabetic", "dx": 2, "dy": -12, "fontSize": 24, "color": "#008000"},
          "encoding": {
            "x": {"datum": {"year": 2006, "month": 12, "date": 29, "utc": true}, "type": "temporal", "axis": null},
            "y": {"datum": 1, "type": "quantitative", "scale": {"domain": [0, 1]}, "axis": null},
            "text": {"field": "label"}
          }
        },
        {
          "data": {"values": [{"label": "-4"}]},
          "mark": {"type": "text", "align": "left", "baseline": "alphabetic", "dx": 48, "dy": -24, "fontSize": 19, "color": "#008000"},
          "encoding": {
            "x": {"datum": {"year": 2006, "month": 12, "date": 29, "utc": true}, "type": "temporal", "axis": null},
            "y": {"datum": 1, "type": "quantitative", "scale": {"domain": [0, 1]}, "axis": null},
            "text": {"field": "label"}
          }
        }
      ],
      "resolve": {"scale": {"y": "independent"}}
    },
    {
      "width": 1077,
      "height": 136,
      "layer": [
        {
          "mark": {"type": "line", "color": "#660066", "strokeWidth": 3},
          "encoding": {
            "x": {"field": "d", "type": "temporal", "scale": {"type": "utc", "nice": false, "domain": [{"year": 2004, "month": 1, "date": 1, "utc": true}, {"year": 2006, "month": 12, "date": 29, "utc": true}]}, "axis": null},
            "y": {"field": "c3", "type": "quantitative", "scale": {"domain": [0, 1], "nice": false}, "axis": {"orient": "left", "values": [0, 1], "format": "d", "labelFontSize": 24, "labelColor": "#0000ff", "labelPadding": 12, "domainColor": "#0000ff", "domainWidth": 2, "ticks": false, "zindex": 1, "title": null}}
          }
        },
        {
          "mark": {"type": "line", "color": "#555555", "strokeWidth": 2, "strokeDash": [3, 5]},
          "encoding": {
            "x": {"field": "d", "type": "temporal", "scale": {"type": "utc", "nice": false, "domain": [{"year": 2004, "month": 1, "date": 1, "utc": true}, {"year": 2006, "month": 12, "date": 29, "utc": true}]}, "axis": null},
            "y": {"field": "n3", "type": "quantitative", "scale": {"domain": [0, 10], "nice": false}, "axis": {"orient": "right", "values": [0, 10], "format": "d", "labelFontSize": 24, "labelColor": "#008000", "labelPadding": 17, "domainColor": "#008000", "domainWidth": 2, "tickColor": "#008000", "tickWidth": 2, "tickSize": -12, "zindex": 1, "title": null}}
          }
        },
        {
          "data": {"values": [{"label": "P3"}]},
          "mark": {"type": "text", "align": "right", "baseline": "middle", "dx": -34, "dy": 18, "fontSize": 22, "fontWeight": "bold", "color": "#000000"},
          "encoding": {
            "x": {"datum": {"year": 2006, "month": 12, "date": 29, "utc": true}, "type": "temporal", "axis": null},
            "y": {"datum": 1, "type": "quantitative", "scale": {"domain": [0, 1]}, "axis": null},
            "text": {"field": "label"}
          }
        },
        {
          "data": {"values": [{"label": "x 10"}]},
          "mark": {"type": "text", "align": "left", "baseline": "alphabetic", "dx": 2, "dy": -12, "fontSize": 24, "color": "#008000"},
          "encoding": {
            "x": {"datum": {"year": 2006, "month": 12, "date": 29, "utc": true}, "type": "temporal", "axis": null},
            "y": {"datum": 1, "type": "quantitative", "scale": {"domain": [0, 1]}, "axis": null},
            "text": {"field": "label"}
          }
        },
        {
          "data": {"values": [{"label": "-4"}]},
          "mark": {"type": "text", "align": "left", "baseline": "alphabetic", "dx": 48, "dy": -24, "fontSize": 19, "color": "#008000"},
          "encoding": {
            "x": {"datum": {"year": 2006, "month": 12, "date": 29, "utc": true}, "type": "temporal", "axis": null},
            "y": {"datum": 1, "type": "quantitative", "scale": {"domain": [0, 1]}, "axis": null},
            "text": {"field": "label"}
          }
        }
      ],
      "resolve": {"scale": {"y": "independent"}}
    },
    {
      "width": 1077,
      "height": 152,
      "view": {"stroke": null},
      "layer": [
        {
          "data": {"values": [{"edge": 0}, {"edge": 1}]},
          "mark": {"type": "rule", "color": "#000000", "strokeWidth": 2},
          "encoding": {
            "y": {"field": "edge", "type": "quantitative", "scale": {"domain": [0, 1], "range": [152, 18], "nice": false}, "axis": null}
          }
        },
        {
          "mark": {"type": "line"},
          "encoding": {
            "x": {"field": "d", "type": "temporal", "scale": {"type": "utc", "nice": false, "domain": [{"year": 2004, "month": 1, "date": 1, "utc": true}, {"year": 2006, "month": 12, "date": 29, "utc": true}]}, "axis": {"orient": "bottom", "values": [{"year": 2004, "month": 1, "date": 1, "utc": true}, {"year": 2004, "month": 5, "date": 1, "utc": true}, {"year": 2004, "month": 8, "date": 31, "utc": true}, {"year": 2004, "month": 12, "date": 31, "utc": true}, {"year": 2005, "month": 5, "date": 2, "utc": true}, {"year": 2005, "month": 8, "date": 31, "utc": true}, {"year": 2005, "month": 12, "date": 31, "utc": true}, {"year": 2006, "month": 5, "date": 2, "utc": true}, {"year": 2006, "month": 9, "date": 1, "utc": true}], "format": "%d/%m/%y", "labelFontSize": 25, "labelColor": "#000000", "labelFlush": false, "labelOverlap": false, "labelPadding": 20, "domain": false, "tickColor": "#000000", "tickWidth": 1.5, "tickSize": -11, "title": null}},
            "y": {"field": "c4", "type": "quantitative", "scale": {"domain": [0, 1], "range": [152, 18], "nice": false}, "axis": {"orient": "left", "values": [0, 1], "format": "d", "labelFontSize": 24, "labelColor": "#0000ff", "labelPadding": 12, "domainColor": "#0000ff", "domainWidth": 2, "ticks": false, "zindex": 1, "title": null}},
            "color": {"datum": "CeB", "type": "nominal", "scale": {"domain": ["CeB", "N2"], "range": ["#660066", "#555555"]}, "legend": {"title": null, "orient": "none", "legendX": 13, "legendY": 539, "direction": "horizontal", "strokeColor": "#000000", "fillColor": "#ffffff", "padding": 11, "symbolType": "M-1,0H4.4", "symbolSize": 900, "columnPadding": 18, "labelOffset": 59, "labelFontSize": 24, "labelColor": "#222222", "labelFont": "Liberation Sans"}},
            "strokeDash": {"datum": "CeB", "type": "nominal", "scale": {"domain": ["CeB", "N2"], "range": [[1, 0], [2, 6]]}},
            "strokeWidth": {"datum": "CeB", "type": "nominal", "scale": {"type": "point", "domain": ["CeB", "N2"], "range": [3, 2], "padding": 0}}
          }
        },
        {
          "mark": {"type": "line"},
          "encoding": {
            "x": {"field": "d", "type": "temporal", "scale": {"type": "utc", "nice": false, "domain": [{"year": 2004, "month": 1, "date": 1, "utc": true}, {"year": 2006, "month": 12, "date": 29, "utc": true}]}, "axis": {"orient": "top", "offset": -18, "values": [{"year": 2004, "month": 5, "date": 1, "utc": true}, {"year": 2004, "month": 8, "date": 31, "utc": true}, {"year": 2004, "month": 12, "date": 31, "utc": true}, {"year": 2005, "month": 5, "date": 2, "utc": true}, {"year": 2005, "month": 8, "date": 31, "utc": true}, {"year": 2005, "month": 12, "date": 31, "utc": true}, {"year": 2006, "month": 5, "date": 2, "utc": true}, {"year": 2006, "month": 9, "date": 1, "utc": true}], "labels": false, "domain": false, "tickColor": "#000000", "tickWidth": 1.5, "tickSize": -11, "title": null}},
            "y": {"field": "n4", "type": "quantitative", "scale": {"domain": [0, 10], "range": [152, 18], "nice": false}, "axis": {"orient": "right", "values": [0, 10], "format": "d", "labelFontSize": 24, "labelColor": "#008000", "labelPadding": 17, "domainColor": "#008000", "domainWidth": 2, "tickColor": "#008000", "tickWidth": 2, "tickSize": -12, "zindex": 1, "title": null}},
            "color": {"datum": "N2", "type": "nominal"},
            "strokeDash": {"datum": "N2", "type": "nominal"},
            "strokeWidth": {"datum": "N2", "type": "nominal"}
          }
        },
        {
          "data": {"values": [{"label": "P4"}]},
          "mark": {"type": "text", "align": "right", "baseline": "middle", "dx": -34, "dy": 18, "fontSize": 22, "fontWeight": "bold", "color": "#000000"},
          "encoding": {
            "x": {"datum": {"year": 2006, "month": 12, "date": 29, "utc": true}, "type": "temporal", "axis": null},
            "y": {"datum": 1, "type": "quantitative", "scale": {"domain": [0, 1], "range": [152, 18]}, "axis": null},
            "text": {"field": "label"}
          }
        },
        {
          "data": {"values": [{"label": "x 10"}]},
          "mark": {"type": "text", "align": "left", "baseline": "alphabetic", "dx": 2, "dy": -12, "fontSize": 24, "color": "#008000"},
          "encoding": {
            "x": {"datum": {"year": 2006, "month": 12, "date": 29, "utc": true}, "type": "temporal", "axis": null},
            "y": {"datum": 1, "type": "quantitative", "scale": {"domain": [0, 1], "range": [152, 18]}, "axis": null},
            "text": {"field": "label"}
          }
        },
        {
          "data": {"values": [{"label": "-4"}]},
          "mark": {"type": "text", "align": "left", "baseline": "alphabetic", "dx": 48, "dy": -24, "fontSize": 19, "color": "#008000"},
          "encoding": {
            "x": {"datum": {"year": 2006, "month": 12, "date": 29, "utc": true}, "type": "temporal", "axis": null},
            "y": {"datum": 1, "type": "quantitative", "scale": {"domain": [0, 1], "range": [152, 18]}, "axis": null},
            "text": {"field": "label"}
          }
        }
      ],
      "resolve": {"scale": {"y": "independent"}, "axis": {"x": "independent"}}
    }
  ]
}
